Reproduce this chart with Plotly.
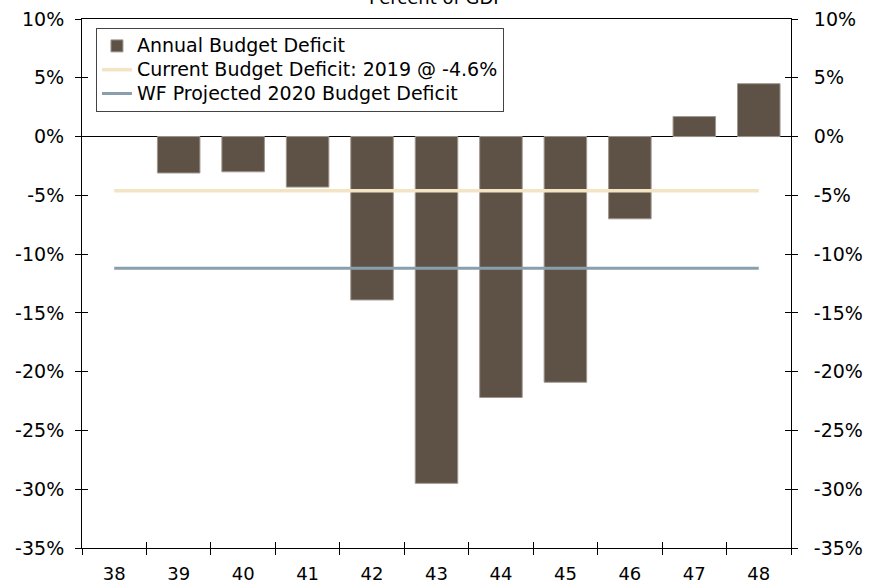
import plotly.graph_objects as go

# Fiscal years (19xx) and annual federal budget balance, percent of GDP
years = [38, 39, 40, 41, 42, 43, 44, 45, 46, 47, 48]
deficit_years = [39, 40, 41, 42, 43, 44, 45, 46, 47, 48]
deficit_values = [-3.1, -3.0, -4.3, -13.9, -29.5, -22.2, -20.9, -7.0, 1.7, 4.5]

current_deficit = -4.6
projected_2020_deficit = -11.2

y_tick_values = [10, 5, 0, -5, -10, -15, -20, -25, -30, -35]
y_tick_labels = ["10%", "5%", "0%", "-5%", "-10%", "-15%", "-20%", "-25%", "-30%", "-35%"]
x_tick_labels = [str(y) for y in years]
x_boundaries = [y - 0.5 for y in years] + [years[-1] + 0.5]

series_names = [
    "Annual Budget Deficit",
    "Current Budget Deficit: 2019 @ -4.6%",
    "WF Projected 2020 Budget Deficit",
]

FONT = "DejaVu Sans"
FS = 19
x_range = [years[0] - 0.5, years[-1] + 0.5]
y_range = [-35, 10]


def legend_label(name):
    # larger glyphs while keeping the compact legend row height
    return f'<span style="font-size:19px">{name}</span>'


fig = go.Figure()

fig.add_trace(go.Bar(
    x=deficit_years, y=deficit_values, width=0.66,
    name=legend_label(series_names[0]),
    marker=dict(color="#5e5246", line=dict(color="#a0978e", width=1)),
))
fig.add_trace(go.Scatter(
    x=[years[0], years[-1]], y=[current_deficit] * 2, mode="lines",
    name=legend_label(series_names[1]),
    line=dict(color="#f3e4c3", width=3.5),
))
fig.add_trace(go.Scatter(
    x=[years[0], years[-1]], y=[projected_2020_deficit] * 2, mode="lines",
    name=legend_label(series_names[2]),
    line=dict(color="#8a9fac", width=3),
))

axis_font = dict(family=FONT, size=FS, color="black")

fig.update_layout(
    width=875, height=584,
    margin=dict(l=82, r=84, t=19, b=36),
    paper_bgcolor="white", plot_bgcolor="white",
    font=axis_font,
    showlegend=True,
    legend=dict(
        x=0.0197, y=0.983, xanchor="left", yanchor="top",
        bordercolor="#444444", borderwidth=1, bgcolor="white",
        font=dict(family=FONT, size=16, color="black"),
        tracegroupgap=0, itemwidth=30,
    ),
    xaxis=dict(
        range=x_range, tickvals=years, ticktext=x_tick_labels,
        ticks="", showgrid=False, zeroline=False, automargin=False,
        showline=True, linecolor="black", linewidth=1, mirror=True,
        tickfont=dict(family=FONT, size=18, color="black"),
        ticklabelstandoff=9,
    ),
    xaxis2=dict(
        overlaying="x", range=x_range, tickvals=x_boundaries,
        ticks="outside", ticklen=6, tickcolor="black",
        showticklabels=False, showgrid=False, zeroline=False,
        showline=False,
    ),
    xaxis3=dict(
        overlaying="x", range=x_range, tickvals=x_boundaries,
        ticks="inside", ticklen=6, tickcolor="black",
        showticklabels=False, showgrid=False, zeroline=False,
        showline=False,
    ),
    yaxis=dict(
        range=y_range, tickvals=y_tick_values, ticktext=y_tick_labels,
        ticks="outside", ticklen=6, tickcolor="black", automargin=False,
        showgrid=False, zeroline=True, zerolinecolor="black", zerolinewidth=1,
        showline=True, linecolor="black", linewidth=1, mirror=True,
        tickfont=axis_font, ticklabelstandoff=7,
    ),
    yaxis2=dict(
        overlaying="y", side="right", range=y_range, automargin=False,
        tickvals=y_tick_values, ticktext=y_tick_labels,
        ticks="outside", ticklen=6, tickcolor="black",
        showgrid=False, zeroline=False, showline=False,
        tickfont=axis_font, ticklabelstandoff=12,
    ),
    yaxis3=dict(
        overlaying="y", range=y_range, tickvals=y_tick_values,
        ticks="inside", ticklen=6, tickcolor="black", mirror="ticks",
        showticklabels=False, showgrid=False, zeroline=False,
        showline=True, linecolor="black", linewidth=1,
    ),
)

# Invisible anchors so the helper axes are drawn
fig.add_trace(go.Scatter(x=x_range, y=y_range, xaxis="x2", yaxis="y2",
                         mode="markers", marker=dict(opacity=0),
                         showlegend=False, hoverinfo="skip"))
fig.add_trace(go.Scatter(x=x_range, y=y_range, xaxis="x3", yaxis="y3",
                         mode="markers", marker=dict(opacity=0),
                         showlegend=False, hoverinfo="skip"))

fig.add_annotation(
    text="Percent of GDP", xref="paper", yref="paper", x=0.5, y=1,
    xanchor="center", yanchor="middle", yshift=22, showarrow=False,
    font=dict(family=FONT, size=18, color="black"),
)

fig.write_html("out.html")
